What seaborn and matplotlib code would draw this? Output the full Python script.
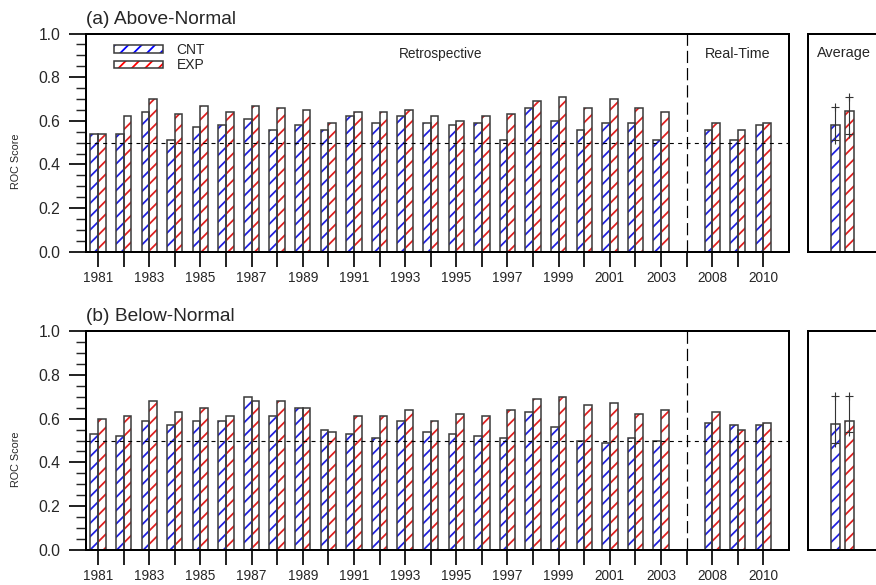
import numpy as np
import pandas as pd
import matplotlib
matplotlib.use("Agg")
import matplotlib.pyplot as plt
from matplotlib.patches import Rectangle, Patch
from matplotlib.ticker import MultipleLocator, FormatStrFormatter
import seaborn as sns

# ---------------- data ----------------
retro_years = [str(y) for y in range(1981, 2004)]
realtime_years = ["2008", "2009", "2010"]
models = ["CNT", "EXP"]

above_cnt = [0.54, 0.54, 0.64, 0.51, 0.57, 0.58, 0.61, 0.56, 0.58, 0.56, 0.62, 0.59,
             0.62, 0.59, 0.58, 0.59, 0.51, 0.66, 0.60, 0.56, 0.59, 0.59, 0.51,
             0.56, 0.51, 0.58]
above_exp = [0.54, 0.62, 0.70, 0.63, 0.67, 0.64, 0.67, 0.66, 0.65, 0.59, 0.64, 0.64,
             0.65, 0.62, 0.60, 0.62, 0.63, 0.69, 0.71, 0.66, 0.70, 0.66, 0.64,
             0.59, 0.56, 0.59]
below_cnt = [0.53, 0.52, 0.59, 0.57, 0.59, 0.59, 0.70, 0.61, 0.65, 0.55, 0.53, 0.51,
             0.59, 0.54, 0.53, 0.52, 0.51, 0.63, 0.56, 0.50, 0.49, 0.51, 0.50,
             0.58, 0.57, 0.57]
below_exp = [0.60, 0.61, 0.68, 0.63, 0.65, 0.61, 0.68, 0.68, 0.65, 0.54, 0.61, 0.61,
             0.64, 0.59, 0.62, 0.61, 0.64, 0.69, 0.70, 0.66, 0.67, 0.62, 0.64,
             0.63, 0.55, 0.58]

# averages with min/max range
above_avg = [0.58, 0.645]
above_min = [0.51, 0.54]
above_max = [0.665, 0.71]
below_avg = [0.575, 0.587]
below_min = [0.488, 0.538]
below_max = [0.704, 0.704]

# ---------------- style ----------------
sns.set_style("ticks")
plt.rcParams["font.family"] = ["Liberation Sans", "DejaVu Sans"]
plt.rcParams["hatch.linewidth"] = 1.6
plt.rcParams["lines.scale_dashes"] = False

DPI = 80
W, H = 876, 585
HATCH = {"CNT": "#0000ff", "EXP": "#ff0000"}
HATCH_PATTERN = "//"
EDGE = "#3c3c3c"
EDGE_LW = 1.4
SPINE_LW = 1.8

GAP = ""
order = retro_years + [GAP] + realtime_years
shown = set(retro_years[::2] + ["2008", "2010"])


def fig_rect(left, top, right, bottom):
    return [left / W, (H - bottom) / H, (right - left) / W, (bottom - top) / H]


def style_bars(ax):
    for cont in list(ax.containers):
        for bar in cont:
            c = bar.get_facecolor()
            bar.set_facecolor("white")
            bar.set_edgecolor(c)
            bar.set_linewidth(0)
            bar.set_hatch(HATCH_PATTERN)
            ax.add_patch(Rectangle(bar.get_xy(), bar.get_width(), bar.get_height(),
                                   fill=False, edgecolor=EDGE, lw=EDGE_LW,
                                   zorder=bar.get_zorder() + 0.1))


def frame(ax):
    for s in ax.spines.values():
        s.set_linewidth(SPINE_LW)
        s.set_color("black")
        s.set_visible(True)
    ax.set_ylim(0, 1)


def draw_main(ax, cnt, exp, title, annotate):
    years = retro_years + realtime_years
    df = pd.DataFrame({
        "year": years * 2,
        "model": ["CNT"] * len(years) + ["EXP"] * len(years),
        "score": cnt + exp,
    })
    sns.barplot(data=df, x="year", y="score", hue="model", order=order,
                hue_order=models, palette=HATCH, width=0.6, errorbar=None,
                legend=False, ax=ax)
    style_bars(ax)
    frame(ax)
    ax.set_xlim(-0.47, 27.0)

    ax.axhline(0.5, color="black", lw=1.0, ls=(0, (3.6, 3.9)), zorder=5)
    ax.axvline(order.index(GAP), color="black", lw=1.1, ls=(0, (11, 4.5)), zorder=5)

    ax.set_xticks(range(len(order)))
    ax.set_xticklabels([lab if lab in shown else "" for lab in order], fontsize=12.3)
    ax.tick_params(axis="x", which="major", direction="out", length=13.5,
                   width=1.8, pad=3.5, top=False, bottom=True)

    ax.set_yticks(np.arange(0, 1.01, 0.2))
    ax.yaxis.set_major_formatter(FormatStrFormatter("%.1f"))
    ax.yaxis.set_minor_locator(MultipleLocator(0.05))
    ax.tick_params(axis="y", which="major", direction="out", length=15, width=1.8,
                   pad=8, labelsize=14.2, left=True, right=False)
    ax.tick_params(axis="y", which="minor", direction="out", length=9, width=1.3,
                   left=True, right=False)

    ax.set_xlabel("")
    ax.set_ylabel("ROC Score", fontsize=9.8)
    ax.yaxis.set_label_coords(-0.0925, 0.415)

    ax.text(0.0, 1.044, title, transform=ax.transAxes, fontsize=17.2,
            ha="left", va="baseline")

    if annotate:
        ax.text(13.4, 0.89, "Retrospective", fontsize=12.3, ha="center", va="baseline")
        ax.text(25.0, 0.89, "Real-Time", fontsize=12.8, ha="center", va="baseline")
        handles = [(Patch(facecolor="white", edgecolor=HATCH[m], hatch=HATCH_PATTERN, lw=0),
                    Patch(facecolor="none", edgecolor=EDGE, lw=EDGE_LW)) for m in models]
        ax.legend(handles, models, loc="upper left", bbox_to_anchor=(0.0398, 0.955),
                  frameon=False, handlelength=3.5, handleheight=0.5,
                  handletextpad=1.0, labelspacing=0.08, fontsize=12.5,
                  borderaxespad=0, borderpad=0)


def draw_avg(ax, avg, lo, hi, annotate):
    df = pd.DataFrame({"model": models, "score": avg})
    sns.barplot(data=df, x="model", y="score", hue="model", order=models,
                hue_order=models, palette=HATCH, width=0.64, errorbar=None,
                legend=False, ax=ax)
    style_bars(ax)
    frame(ax)
    ax.set_xlim(-1.96, 3.18)
    pos = np.arange(len(models))
    ax.errorbar(pos, avg, yerr=[np.subtract(avg, lo), np.subtract(hi, avg)],
                fmt="none", ecolor="#333333", elinewidth=1.0, capsize=0, zorder=6)
    ax.plot(pos, lo, ls="none", marker="+", ms=7, mew=1.0, color="#333333", zorder=6)
    ax.plot(pos, hi, ls="none", marker="+", ms=7, mew=1.0, color="#333333", zorder=6)
    ax.set_xticks([])
    ax.set_yticks([])
    ax.set_xlabel("")
    ax.set_ylabel("")
    if annotate:
        ax.text(0.12, 0.891, "Average", transform=ax.transAxes, fontsize=13,
                ha="left", va="baseline")


fig = plt.figure(figsize=(W / DPI, H / DPI), dpi=DPI)
ax_a = fig.add_axes(fig_rect(86, 33.5, 789, 251.7))
ax_b = fig.add_axes(fig_rect(86, 331, 789, 550))
av_a = fig.add_axes(fig_rect(808, 33.5, 880, 251.7))
av_b = fig.add_axes(fig_rect(808, 331, 880, 550))

draw_main(ax_a, above_cnt, above_exp, "(a) Above-Normal", True)
draw_main(ax_b, below_cnt, below_exp, "(b) Below-Normal", False)
draw_avg(av_a, above_avg, above_min, above_max, True)
draw_avg(av_b, below_avg, below_min, below_max, False)

fig.savefig("out.png", dpi=DPI, facecolor="white")
